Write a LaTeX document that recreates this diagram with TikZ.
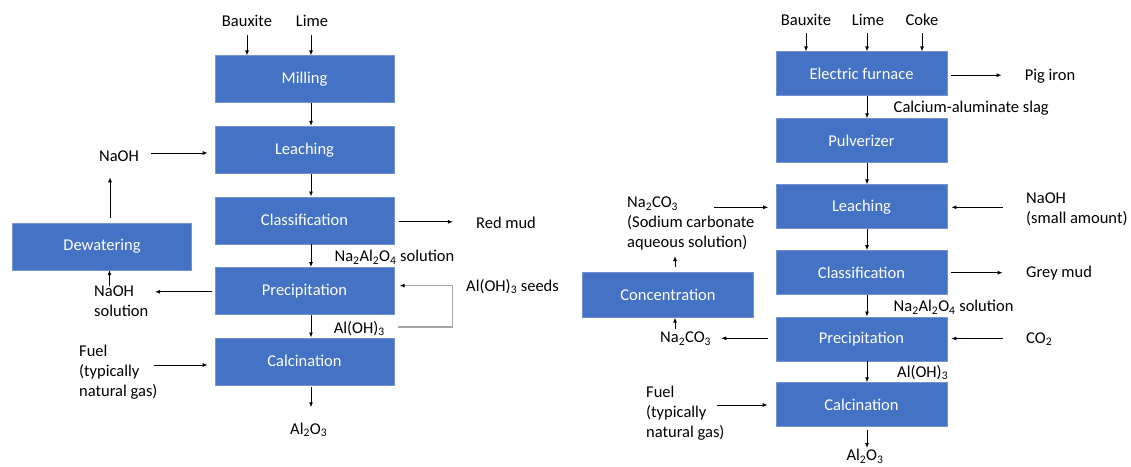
\documentclass[tikz,border=0pt]{standalone}
\usepackage{fontspec}
\setmainfont{Carlito}
\usetikzlibrary{arrows.meta,calc}
\definecolor{boxblue}{HTML}{4472C4}
\definecolor{boxedge}{HTML}{7393D4}
\definecolor{loopgray}{HTML}{A6A6A6}
\begin{document}
\begin{tikzpicture}[x=1pt,y=-1pt,
  every node/.style={font=\fontsize{16.5}{20}\selectfont},
  proc/.style={rectangle, fill=boxblue, draw=boxedge, line width=0.6pt, text=white, inner sep=0pt},
  procL/.style={proc, minimum width=179pt, minimum height=47pt},
  procR/.style={proc, minimum width=171pt, minimum height=44pt},
  lbl/.style={inner sep=0pt, text=black},
  mlbl/.style={lbl, align=left, anchor=north west},
  arr/.style={line width=0.9pt, -{Latex[length=5pt,width=4pt]}},
  seedloop/.style={draw=loopgray, line width=1.1pt, -{Latex[length=5pt,width=4pt,color=black]}}
]
\fill[white] (0,0) rectangle (1131,466);
\useasboundingbox (0,0) rectangle (1131,466);

% ---------------- left process ----------------
\node[procL] (mill)    at (304.5,79.2)  {Milling};
\node[procL] (leach)   at (304.5,149.7) {Leaching};
\node[procL] (class)   at (304.5,220.3) {Classification};
\node[procL] (precip)  at (304.5,290.8) {Precipitation};
\node[procL] (calc)    at (304.5,361.3) {Calcination};
\node[procL] (dewater) at (102,246.3)   {Dewatering};
\coordinate (axL) at (311,0);

\node[lbl,anchor=base] (bauxL)  at (247,26.3)  {Bauxite};
\node[lbl,anchor=base] (limeL)  at (312,26.3)  {Lime};
\node[lbl,anchor=base] (naohT)  at (119,161.3) {NaOH};
\node[lbl,anchor=base] (redmud) at (506,228)   {Red mud};
\node[lbl,anchor=base west] (solL)  at (334.4,261.5) {Na\textsubscript{2}Al\textsubscript{2}O\textsubscript{4} solution};
\node[lbl,anchor=base west] (seeds) at (466,291.3)   {Al(OH)\textsubscript{3} seeds};
\node[lbl,anchor=base west] (alohL) at (333.7,333)   {Al(OH)\textsubscript{3}};
\node[lbl,anchor=base] (aloL) at (308.7,434.3) {Al\textsubscript{2}O\textsubscript{3}};
\node[mlbl] (naohS) at (94,282.3) {\strut NaOH\\solution};
\node[mlbl] (fuelL) at (79,342.3) {\strut Fuel\\(typically\\natural gas)};

\draw[arr] ($(bauxL.base)+(0,9)$) -- (bauxL.base |- mill.north);
\draw[arr] ($(limeL.base)+(-1,9)$) coordinate (t) -- (t |- mill.north);
\draw[arr] (mill.south -| axL) -- (leach.north -| axL);
\draw[arr] (leach.south -| axL) -- (class.north -| axL);
\draw[arr] (class.south -| axL) -- (precip.north -| axL);
\draw[arr] (precip.south -| axL) -- (calc.north -| axL);
\draw[arr] ($(calc.south -| axL)+(0,2)$) -- ($(aloL.base -| axL)+(0,-27)$);
\draw[arr, shorten >=7pt] ($(naohT.east)+(12,-3)$) coordinate (t) -- (t -| leach.west);
\draw[arr] ($(dewater.north)+(8,-5)$) coordinate (t) -- ($(t |- naohT.base)+(0,16)$);
\draw[arr] ($(class.east)+(5,1.5)$) coordinate (t) -- ($(t -| redmud.west)+(-23,0)$);
\draw[arr] ($(precip.west)+(-3,1)$) coordinate (t) -- ($(t -| naohS.west)+(61,0)$);
\draw[arr] ($(naohS.north west)+(15.5,4)$) coordinate (t) -- (t |- dewater.south);
\draw[seedloop] ($(precip.east |- alohL.base)+(4,-6)$) -- ($(seeds.west |- alohL.base)+(-13.3,-6)$)
   -- ($(seeds.west)+(-13.3,-1)$) -- ($(precip.east |- seeds.west)+(5.3,-1)$);
\draw[arr, shorten >=7pt] ($(fuelL.north west)+(74.5,22.7)$) coordinate (t) -- (t -| calc.west);

% ---------------- right process ----------------
\node[procR] (furnace) at (861.5,73.7)  {Electric furnace};
\node[procR] (pulv)    at (861.5,140.7) {Pulverizer};
\node[procR] (leachR)  at (861.5,206.7) {Leaching};
\node[procR] (classR)  at (861.5,272.5) {Classification};
\node[procR] (precipR) at (861.5,338.8) {Precipitation};
\node[procR] (calcR)   at (861.5,404.7) {Calcination};
\node[proc, minimum width=170.5pt, minimum height=44.6pt] (conc) at (668,295) {Concentration};
\coordinate (axR) at (867,0);

\node[lbl,anchor=base] (bauxR) at (806,25.3)   {Bauxite};
\node[lbl,anchor=base] (limeR) at (868,25.3)   {Lime};
\node[lbl,anchor=base] (cokeR) at (922,25.3)   {Coke};
\node[lbl,anchor=base] (pig)   at (1050,80.5)  {Pig iron};
\node[lbl,anchor=base west] (slag)  at (893.5,112)  {Calcium-aluminate slag};
\node[lbl,anchor=base west] (grey)  at (1026,277.5) {Grey mud};
\node[lbl,anchor=base west] (solR)  at (893.5,311.5) {Na\textsubscript{2}Al\textsubscript{2}O\textsubscript{4} solution};
\node[lbl,anchor=base west] (nacoB) at (660,342.5) {Na\textsubscript{2}CO\textsubscript{3}};
\node[lbl,anchor=base west] (co2)   at (1026,343)   {CO\textsubscript{2}};
\node[lbl,anchor=base west] (alohR) at (897,377)    {Al(OH)\textsubscript{3}};
\node[lbl,anchor=base] (aloR) at (865,460.5) {Al\textsubscript{2}O\textsubscript{3}};
\node[mlbl] (naco)  at (627,193.6)  {\strut Na\textsubscript{2}CO\textsubscript{3}\\(Sodium carbonate\\aqueous solution)};
\node[mlbl] (naohR) at (1026,189.6) {\strut NaOH\\(small amount)};
\node[mlbl] (fuelR) at (646,383.6)  {\strut Fuel\\(typically\\natural gas)};

\draw[arr] ($(bauxR.base)+(0,8)$) -- (bauxR.base |- furnace.north);
\draw[arr] ($(limeR.base)+(-1,8)$) coordinate (t) -- (t |- furnace.north);
\draw[arr] ($(cokeR.base)+(0,8)$) -- (cokeR.base |- furnace.north);
\draw[arr] (furnace.south -| axR) -- (pulv.north -| axR);
\draw[arr] (pulv.south -| axR) -- (leachR.north -| axR);
\draw[arr] (leachR.south -| axR) -- (classR.north -| axR);
\draw[arr] (classR.south -| axR) -- (precipR.north -| axR);
\draw[arr] (precipR.south -| axR) -- (calcR.north -| axR);
\draw[arr] ($(calcR.south -| axR)+(0,2.5)$) -- ($(aloR.base -| axR)+(0,-12.5)$);
\draw[arr] ($(furnace.east)+(4,1.5)$) coordinate (t) -- ($(t -| pig.west)+(-23,0)$);
\draw[arr, shorten >=7.5pt] ($(naco.north west)+(87,13.7)$) coordinate (t) -- (t -| leachR.west);
\draw[arr, shorten >=4pt] ($(naohR.north west)+(-23.4,17.7)$) coordinate (t) -- (t -| leachR.east);
\draw[arr] ($(classR.east)+(4,0.2)$) coordinate (t) -- ($(t -| grey.west)+(-23.4,0)$);
\draw[arr] ($(conc.north)+(7,-5)$) coordinate (t) -- ($(t |- naco.north)+(0,62.4)$);
\draw[arr] ($(precipR.west)+(-8,-0.5)$) coordinate (t) -- ($(t -| nacoB.east)+(10,0)$);
\draw[arr] ($(nacoB.base west)+(15,-13.2)$) coordinate (t) -- (t |- conc.south);
\draw[arr, shorten >=4pt] ($(co2.base west)+(-23.4,-4.5)$) coordinate (t) -- (t -| precipR.east);
\draw[arr, shorten >=8pt] ($(fuelR.north west)+(70.6,21.4)$) coordinate (t) -- (t -| calcR.west);
\end{tikzpicture}
\end{document}
